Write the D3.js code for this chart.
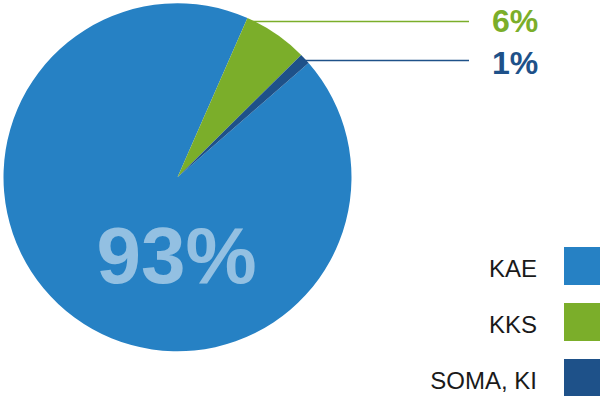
<!DOCTYPE html>
<html>
<head>
<meta charset="utf-8">
<script src="https://cdn.jsdelivr.net/npm/d3@7/dist/d3.min.js"></script>
<style>
  html, body { margin: 0; padding: 0; background: #fff; }
  svg { display: block; }
  text { font-family: "Liberation Sans", Arial, Helvetica, sans-serif; }
</style>
</head>
<body>
<svg id="chart" width="600" height="396"></svg>
<script>
// Share of each category (percent)
const categories = ["KAE", "KKS", "SOMA, KI"];
const values = [93, 6, 1];
const colors = ["#2681c4", "#7bae2a", "#1e5189"];
const valueLabels = ["93%", "6%", "1%"];

const svg = d3.select("#chart");
const cx = 177.5, cy = 177.3, R = 174;

const data = categories.map((c, i) => ({ name: c, value: values[i], color: colors[i], label: valueLabels[i] }));

// The largest slice starts just past the two small ones, going clockwise
const startDeg = 48.9;
const pie = d3.pie()
  .sort(null)
  .value(d => d.value)
  .startAngle(startDeg * Math.PI / 180)
  .endAngle((startDeg + 360) * Math.PI / 180);

const arcs = pie(data);
const arc = d3.arc().innerRadius(0).outerRadius(R);

const g = svg.append("g").attr("transform", `translate(${cx},${cy})`);

g.selectAll("path.slice")
  .data(arcs)
  .enter().append("path")
  .attr("class", "slice")
  .attr("d", arc)
  .attr("fill", d => d.data.color);

// Big label inside the main slice
g.append("text")
  .attr("x", -1)
  .attr("y", 106)
  .attr("text-anchor", "middle")
  .attr("font-size", 80)
  .attr("font-weight", "bold")
  .attr("fill", "#ffffff")
  .attr("fill-opacity", 0.5)
  .text(arcs[0].data.label);

// Leader lines and labels for the small slices
const lineEndX = 469;
const labelX = 492;
const leaderAngle = [null, a => a.startAngle + 1.6 * Math.PI / 180, a => (a.startAngle + a.endAngle) / 2];
const labelDy = [null, 10.5, 13];
arcs.slice(1).forEach((a, k) => {
  const i = k + 1;
  const ang = leaderAngle[i](a);
  const px = cx + R * Math.sin(ang);
  const py = cy - R * Math.cos(ang);
  const ly = Math.round(py) + 1.5;
  svg.append("line")
    .attr("x1", px).attr("y1", ly)
    .attr("x2", lineEndX).attr("y2", ly)
    .attr("stroke", a.data.color)
    .attr("stroke-width", 1.5);
  svg.append("text")
    .attr("x", labelX)
    .attr("y", ly + labelDy[i])
    .attr("font-size", 32)
    .attr("font-weight", "bold")
    .attr("fill", a.data.color)
    .text(a.data.label);
});

// Legend, bottom right
const legendY = d3.scalePoint()
  .domain(categories)
  .range([247, 359]);

const legend = svg.append("g");
categories.forEach((c, i) => {
  const y = legendY(c);
  legend.append("rect")
    .attr("x", 564).attr("y", y)
    .attr("width", 38).attr("height", 38)
    .attr("fill", colors[i]);
  legend.append("text")
    .attr("x", 537).attr("y", y + 30)
    .attr("text-anchor", "end")
    .attr("font-size", 24)
    .attr("fill", "#1a1a1a")
    .text(c);
});
</script>
</body>
</html>
